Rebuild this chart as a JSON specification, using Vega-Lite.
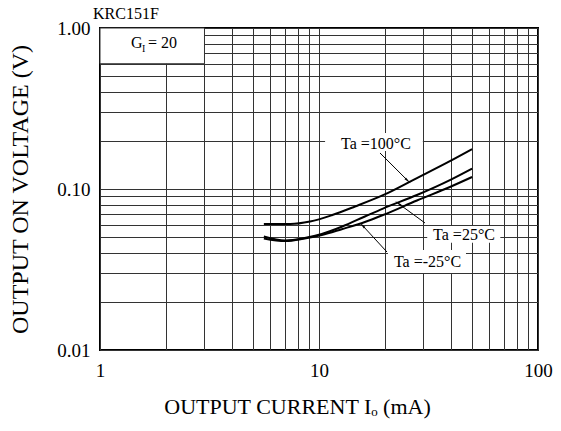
{
  "$schema": "https://vega.github.io/schema/vega-lite/v6.json",
  "width": 438,
  "height": 322,
  "autosize": {"type": "none"},
  "padding": {"left": 100, "top": 28, "right": 23, "bottom": 81},
  "background": "white",
  "config": {
    "font": "Liberation Serif",
    "view": {"stroke": "black", "strokeWidth": 2},
    "axis": {"labelFont": "Liberation Serif", "titleFont": "Liberation Serif", "labelColor": "black", "titleColor": "black", "titleFontWeight": "normal", "gridColor": "#333", "gridOpacity": 1, "gridWidth": 1, "ticks": false, "domain": false, "labelOverlap": false, "labelFlush": false}
  },
  "datasets": {
    "curves": [
      {"series": "100", "io": 5.6, "v": 0.0606}, {"series": "100", "io": 7.4, "v": 0.0606}, {"series": "100", "io": 9.1, "v": 0.0628}, {"series": "100", "io": 11.5, "v": 0.0689}, {"series": "100", "io": 14.6, "v": 0.0778}, {"series": "100", "io": 19.6, "v": 0.0915}, {"series": "100", "io": 28, "v": 0.117}, {"series": "100", "io": 39.6, "v": 0.149}, {"series": "100", "io": 50, "v": 0.177},
      {"series": "25", "io": 5.6, "v": 0.0507}, {"series": "25", "io": 7.0, "v": 0.0479}, {"series": "25", "io": 8.6, "v": 0.0496}, {"series": "25", "io": 10.3, "v": 0.0525}, {"series": "25", "io": 12.7, "v": 0.0583}, {"series": "25", "io": 16.2, "v": 0.0675}, {"series": "25", "io": 19.6, "v": 0.0756}, {"series": "25", "io": 28, "v": 0.0918}, {"series": "25", "io": 39.6, "v": 0.1137}, {"series": "25", "io": 50, "v": 0.134},
      {"series": "-25", "io": 5.6, "v": 0.0493}, {"series": "-25", "io": 7.0, "v": 0.0475}, {"series": "-25", "io": 8.6, "v": 0.0493}, {"series": "-25", "io": 10.3, "v": 0.0518}, {"series": "-25", "io": 12.7, "v": 0.0563}, {"series": "-25", "io": 16.2, "v": 0.0624}, {"series": "-25", "io": 19.6, "v": 0.0689}, {"series": "-25", "io": 28, "v": 0.0848}, {"series": "-25", "io": 39.6, "v": 0.1029}, {"series": "-25", "io": 50, "v": 0.1187}
    ],
    "arrows": [
      {"series": "100", "x1": 18.99, "y1": 0.1674, "x2": 25.23, "y2": 0.1138, "ang": 131.8},
      {"series": "25", "x1": 30.48, "y1": 0.0615, "x2": 23.19, "y2": 0.0807, "ang": 306.5},
      {"series": "-25", "x1": 20.44, "y1": 0.0406, "x2": 15.88, "y2": 0.0589, "ang": 317.3}
    ],
    "labels": [
      {"label": "Ta =100°C", "x": 18.2, "y": 0.1904, "bx1": 10.66, "bx2": 29.8, "by1": 0.2225, "by2": 0.172},
      {"label": "Ta =25°C", "x": 45.94, "y": 0.0518, "bx1": 31.2, "bx2": 67.3, "by1": 0.0589, "by2": 0.0463},
      {"label": "Ta =-25°C", "x": 31.29, "y": 0.03545, "bx1": 20.65, "bx2": 46.9, "by1": 0.0418, "by2": 0.0301}
    ],
    "heading": [{"t": "KRC151F", "x": 0.929, "y": 1.137}],
    "gbox": [{"x1": 1, "x2": 3, "y1": 1, "y2": 0.6}],
    "gtext": [{"t": "G", "x": 1.385, "y": 0.81, "part": "main"}, {"t": "= 20", "x": 1.657, "y": 0.81, "part": "main"}, {"t": "I", "x": 1.555, "y": 0.81, "part": "sub"}]
  },
  "layer": [
    {
      "data": {"name": "gbox"},
      "mark": {"type": "rect", "fill": "white", "stroke": "#333", "strokeWidth": 1},
      "encoding": {
        "x": {"field": "x1", "type": "quantitative", "scale": {"type": "log", "domain": [1, 100]},
          "axis": {"values": [1,2,3,4,5,6,7,8,9,10,20,30,40,50,60,70,80,90,100], "format": "~g", "labelExpr": "datum.value == 1 || datum.value == 10 || datum.value == 100 ? datum.label : ''", "labelFontSize": 19, "labelPadding": 11, "title": "OUTPUT CURRENT  Iₒ (mA)", "titleFontSize": 22, "titlePadding": 16, "titleX": 197, "titleAlign": "center"}},
        "x2": {"field": "x2"},
        "y": {"field": "y1", "type": "quantitative", "scale": {"type": "log", "domain": [0.01, 1]},
          "axis": {"values": [0.01,0.02,0.03,0.04,0.05,0.06,0.07,0.08,0.09,0.1,0.2,0.3,0.4,0.5,0.6,0.7,0.8,0.9,1], "format": ".2f", "labelExpr": "datum.value == 0.01 || datum.value == 0.1 || datum.value == 1 ? datum.label : ''", "labelFontSize": 19, "labelPadding": 10, "title": "OUTPUT ON VOLTAGE  (V)", "titleFontSize": 24, "titlePadding": 24}},
        "y2": {"field": "y2"}
      }
    },
    {
      "data": {"name": "labels"},
      "mark": {"type": "rect", "fill": "white"},
      "encoding": {
        "x": {"field": "bx1", "type": "quantitative"},
        "x2": {"field": "bx2"},
        "y": {"field": "by1", "type": "quantitative"},
        "y2": {"field": "by2"}
      }
    },
    {
      "data": {"name": "curves"},
      "mark": {"type": "line", "color": "black", "strokeWidth": 2, "interpolate": "monotone"},
      "encoding": {
        "x": {"field": "io", "type": "quantitative"},
        "y": {"field": "v", "type": "quantitative"},
        "detail": {"field": "series"}
      }
    },
    {
      "data": {"name": "arrows"},
      "mark": {"type": "rule", "color": "black", "strokeWidth": 1},
      "encoding": {
        "x": {"field": "x1", "type": "quantitative"},
        "y": {"field": "y1", "type": "quantitative"},
        "x2": {"field": "x2"},
        "y2": {"field": "y2"}
      }
    },
    {
      "data": {"name": "arrows"},
      "mark": {"type": "point", "shape": "wedge", "filled": true, "color": "black", "size": 70, "opacity": 1},
      "encoding": {
        "x": {"field": "x2", "type": "quantitative"},
        "y": {"field": "y2", "type": "quantitative"},
        "angle": {"field": "ang", "type": "quantitative", "scale": null}
      }
    },
    {
      "data": {"name": "labels"},
      "mark": {"type": "text", "fontSize": 16, "font": "Liberation Serif", "color": "black", "baseline": "middle", "align": "center"},
      "encoding": {
        "x": {"field": "x", "type": "quantitative"},
        "y": {"field": "y", "type": "quantitative"},
        "text": {"field": "label"}
      }
    },
    {
      "data": {"name": "heading"},
      "mark": {"type": "text", "fontSize": 16, "font": "Liberation Serif", "color": "black", "baseline": "alphabetic", "align": "left"},
      "encoding": {
        "x": {"field": "x", "type": "quantitative"},
        "y": {"field": "y", "type": "quantitative"},
        "text": {"field": "t"}
      }
    },
    {
      "data": {"name": "gtext"},
      "transform": [{"filter": "datum.part == 'main'"}],
      "mark": {"type": "text", "fontSize": 16, "font": "Liberation Serif", "color": "black", "baseline": "middle", "align": "left"},
      "encoding": {
        "x": {"field": "x", "type": "quantitative"},
        "y": {"field": "y", "type": "quantitative"},
        "text": {"field": "t"}
      }
    },
    {
      "data": {"name": "gtext"},
      "transform": [{"filter": "datum.part == 'sub'"}],
      "mark": {"type": "text", "fontSize": 10, "font": "Liberation Serif", "color": "black", "baseline": "middle", "align": "left", "dy": 6},
      "encoding": {
        "x": {"field": "x", "type": "quantitative"},
        "y": {"field": "y", "type": "quantitative"},
        "text": {"field": "t"}
      }
    }
  ]
}
